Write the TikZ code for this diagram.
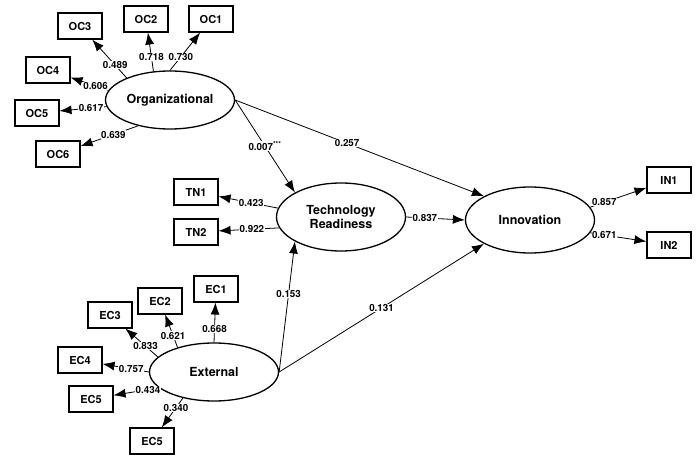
\documentclass[tikz,border=0pt]{standalone}
\usepackage{fontspec}
\setmainfont{TeX Gyre Heros}
\usetikzlibrary{arrows.meta,positioning,shapes.geometric}
\tikzset{
  latent/.style={ellipse,draw,line width=1.3pt,minimum width=129pt,minimum height=58pt,inner sep=0pt,align=center,font=\fontsize{12.5}{14}\selectfont\bfseries},
  indicator/.style={rectangle,draw,line width=1.1pt,minimum width=44pt,minimum height=26pt,inner sep=0pt,font=\fontsize{11}{12}\selectfont\bfseries},
  link/.style={-{Latex[length=12pt,width=9pt]},line width=0.8pt},
  coef/.style={fill=white,inner sep=0.5pt,font=\fontsize{9.8}{10}\selectfont\bfseries}
}
\begin{document}
\begin{tikzpicture}[x=1pt,y=-1pt]
\useasboundingbox (0,0) rectangle (699,457);
\node[latent] (org) at (170,100) {Organizational};
\node[latent,minimum height=68pt] (tech) at (341,217) {Technology\\Readiness};
\node[latent,minimum height=66pt] (innov) at (530,220) {Innovation};
\node[latent] (ext) at (214,372) {External};
\node[indicator] (oc1) at (211,19) {OC1};
\node[indicator] (oc2) at (146,19) {OC2};
\node[indicator] (oc3) at (80,26) {OC3};
\node[indicator] (oc4) at (48,70) {OC4};
\node[indicator] (oc5) at (37,113) {OC5};
\node[indicator] (oc6) at (58,154) {OC6};
\node[indicator] (tn1) at (196,192) {TN1};
\node[indicator] (tn2) at (196,232) {TN2};
\node[indicator] (in1) at (669,180) {IN1};
\node[indicator] (in2) at (669,245) {IN2};
\node[indicator] (ec1) at (216,289) {EC1};
\node[indicator] (ec2) at (160,301) {EC2};
\node[indicator] (ec3) at (110,315) {EC3};
\node[indicator] (ec4) at (80,360) {EC4};
\node[indicator] (ec5a) at (91,399) {EC5};
\node[indicator] (ec5b) at (152,441) {EC5};
\draw[link] (org.90)--(oc1) node[coef,pos=0.36]{0.730};
\draw[link] (org.120)--(oc2) node[coef,pos=0.36]{0.718};
\draw[link] (org.153)--(oc3) node[coef,pos=0.33]{0.489};
\draw[link] (org.171)--(oc4) node[coef,pos=0.34]{0.606};
\draw[link] (org.186)--(oc5) node[coef,pos=0.33]{0.617};
\draw[link] (org.219)--(oc6) node[coef,pos=0.43]{0.639};
\draw[link] (tech.172)--(tn1) node[coef,pos=0.45]{0.423};
\draw[link] (tech.190)--(tn2) node[coef,pos=0.45]{0.922};
\draw[link] (innov.12)--(in1) node[coef,pos=0.25]{0.857};
\draw[link] (innov.348)--(in2) node[coef,pos=0.25]{0.671};
\draw[link] (ext.90)--(ec1) node[coef,pos=0.34]{0.668};
\draw[link] (ext.146)--(ec2) node[coef,pos=0.36]{0.621};
\draw[link] (ext.165)--(ec3) node[coef,pos=0.38]{0.833};
\draw[link] (ext.180)--(ec4) node[coef,pos=0.38]{0.757};
\draw[link] (ext.196)--(ec5a) node[coef,pos=0.24]{0.434};
\draw[link] (ext.220)--(ec5b) node[coef,pos=0.33]{0.340};
\draw[link] (org.east)--(tech.north west) node[coef,pos=0.5]{0.007\textsuperscript{***}};
\draw[link] (org.east)--(innov.north west) node[coef,pos=0.45]{0.257};
\draw[link] (tech.east)--(innov.west) node[coef,pos=0.32]{0.837};
\draw[link] (ext.east)--(tech.south west) node[coef,pos=0.6]{0.153};
\draw[link] (ext.east)--(innov.south west) node[coef,pos=0.5]{0.131};
\end{tikzpicture}
\end{document}
